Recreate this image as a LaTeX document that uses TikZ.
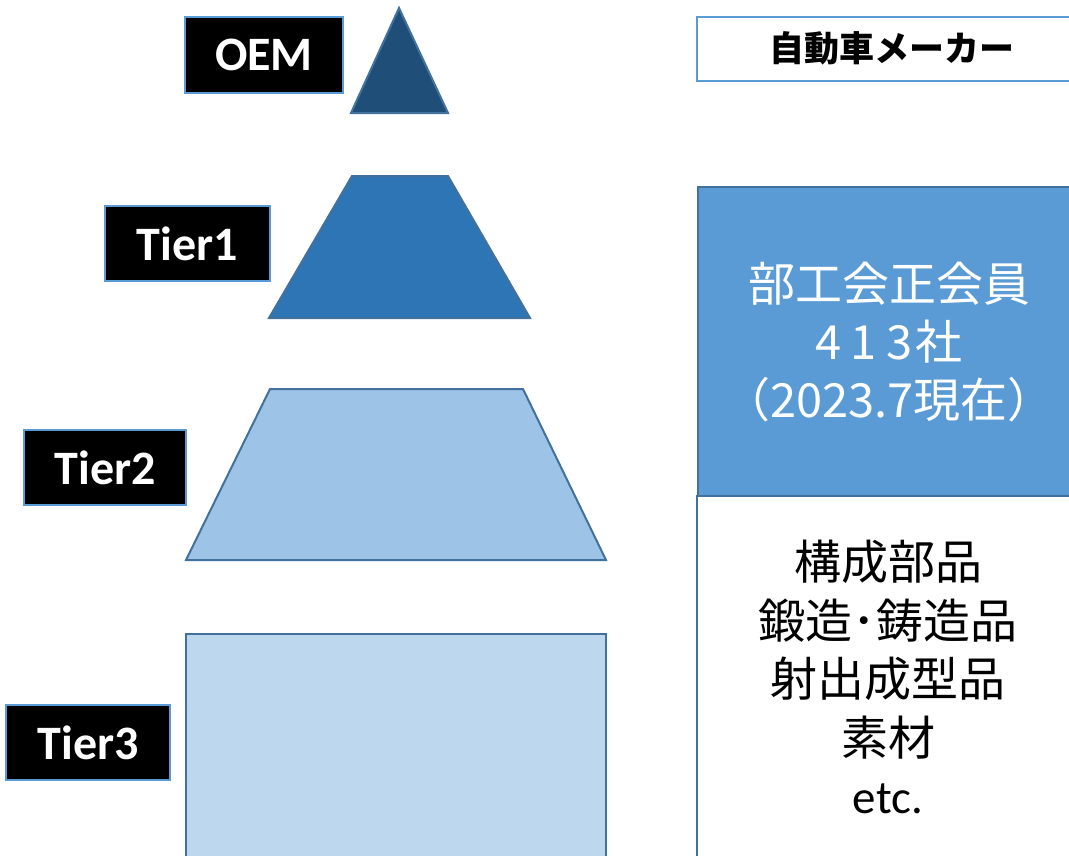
\documentclass[tikz,border=0pt]{standalone}
\usepackage{fontspec}
\newfontfamily\cjk{Noto Sans CJK JP}
\newfontfamily\calfont{Carlito}
\definecolor{navy}{HTML}{1F4E79}
\definecolor{midblue}{HTML}{2E75B6}
\definecolor{lightblue}{HTML}{9DC3E6}
\definecolor{paleblue}{HTML}{BDD7EE}
\definecolor{boxblue}{HTML}{5B9BD5}
\definecolor{edgeblue}{HTML}{41719C}
\begin{document}
\begin{tikzpicture}[x=1pt,y=-1pt,
  tierlabel/.style={draw=boxblue,line width=2.5pt,fill=black,text=white,inner sep=0pt,
    font=\calfont\bfseries\fontsize{48}{56}\selectfont},
  level/.style={draw=edgeblue,line width=2pt,line join=miter},
  rbox/.style={line width=2pt,inner sep=0pt,anchor=north west}]
\useasboundingbox (0,0) rectangle (1069,855);
\clip (0,0) rectangle (1069,855);
% pyramid levels
\draw[level,fill=navy] (399,8) -- (448,113) -- (351,113) -- cycle;
\draw[level,fill=midblue] (352,176) -- (448,176) -- (530,318) -- (269,318) -- cycle;
\draw[level,fill=lightblue] (270,389) -- (523,389) -- (606,560) -- (186,560) -- cycle;
\draw[level,fill=paleblue] (186,634) rectangle (606,870);
% tier labels
\node[tierlabel,minimum width=158pt,minimum height=76pt] (oem) at (264,55) {OEM};
\node[tierlabel,minimum width=165pt,minimum height=75pt] (t1) at (187.5,243.5) {Tier1};
\node[tierlabel,minimum width=162pt,minimum height=75pt] (t2) at (105,467.5) {Tier2};
\node[tierlabel,minimum width=164pt,minimum height=75pt] (t3) at (88,742.5) {Tier3};
% right column
\node[rbox,draw=boxblue,fill=white,minimum width=400pt,minimum height=64pt] (maker) at (696,16) {};
\node[font=\cjk\bfseries\fontsize{35}{40}\selectfont] (makertext) at (892,48) {自動車メーカー};
\node[rbox,draw=edgeblue,fill=boxblue,minimum width=400pt,minimum height=309pt] (member) at (697,186) {};
\node[text=white,align=center,font=\cjk\fontsize{47}{58}\selectfont] (membertext) at (889,342)
  {部工会正会員\\4\kern9pt 1\kern9pt 3\kern3pt 社\\（2023.7現在）};
\node[rbox,draw=edgeblue,fill=white,minimum width=400pt,minimum height=400pt] (parts) at (696,495) {};
\node[align=center,font=\cjk\fontsize{47}{58.5}\selectfont] (partstext) at (888,677)
  {構成部品\\鍛造･鋳造品\\射出成型品\\素材\\{\calfont etc.}};
\end{tikzpicture}
\end{document}
